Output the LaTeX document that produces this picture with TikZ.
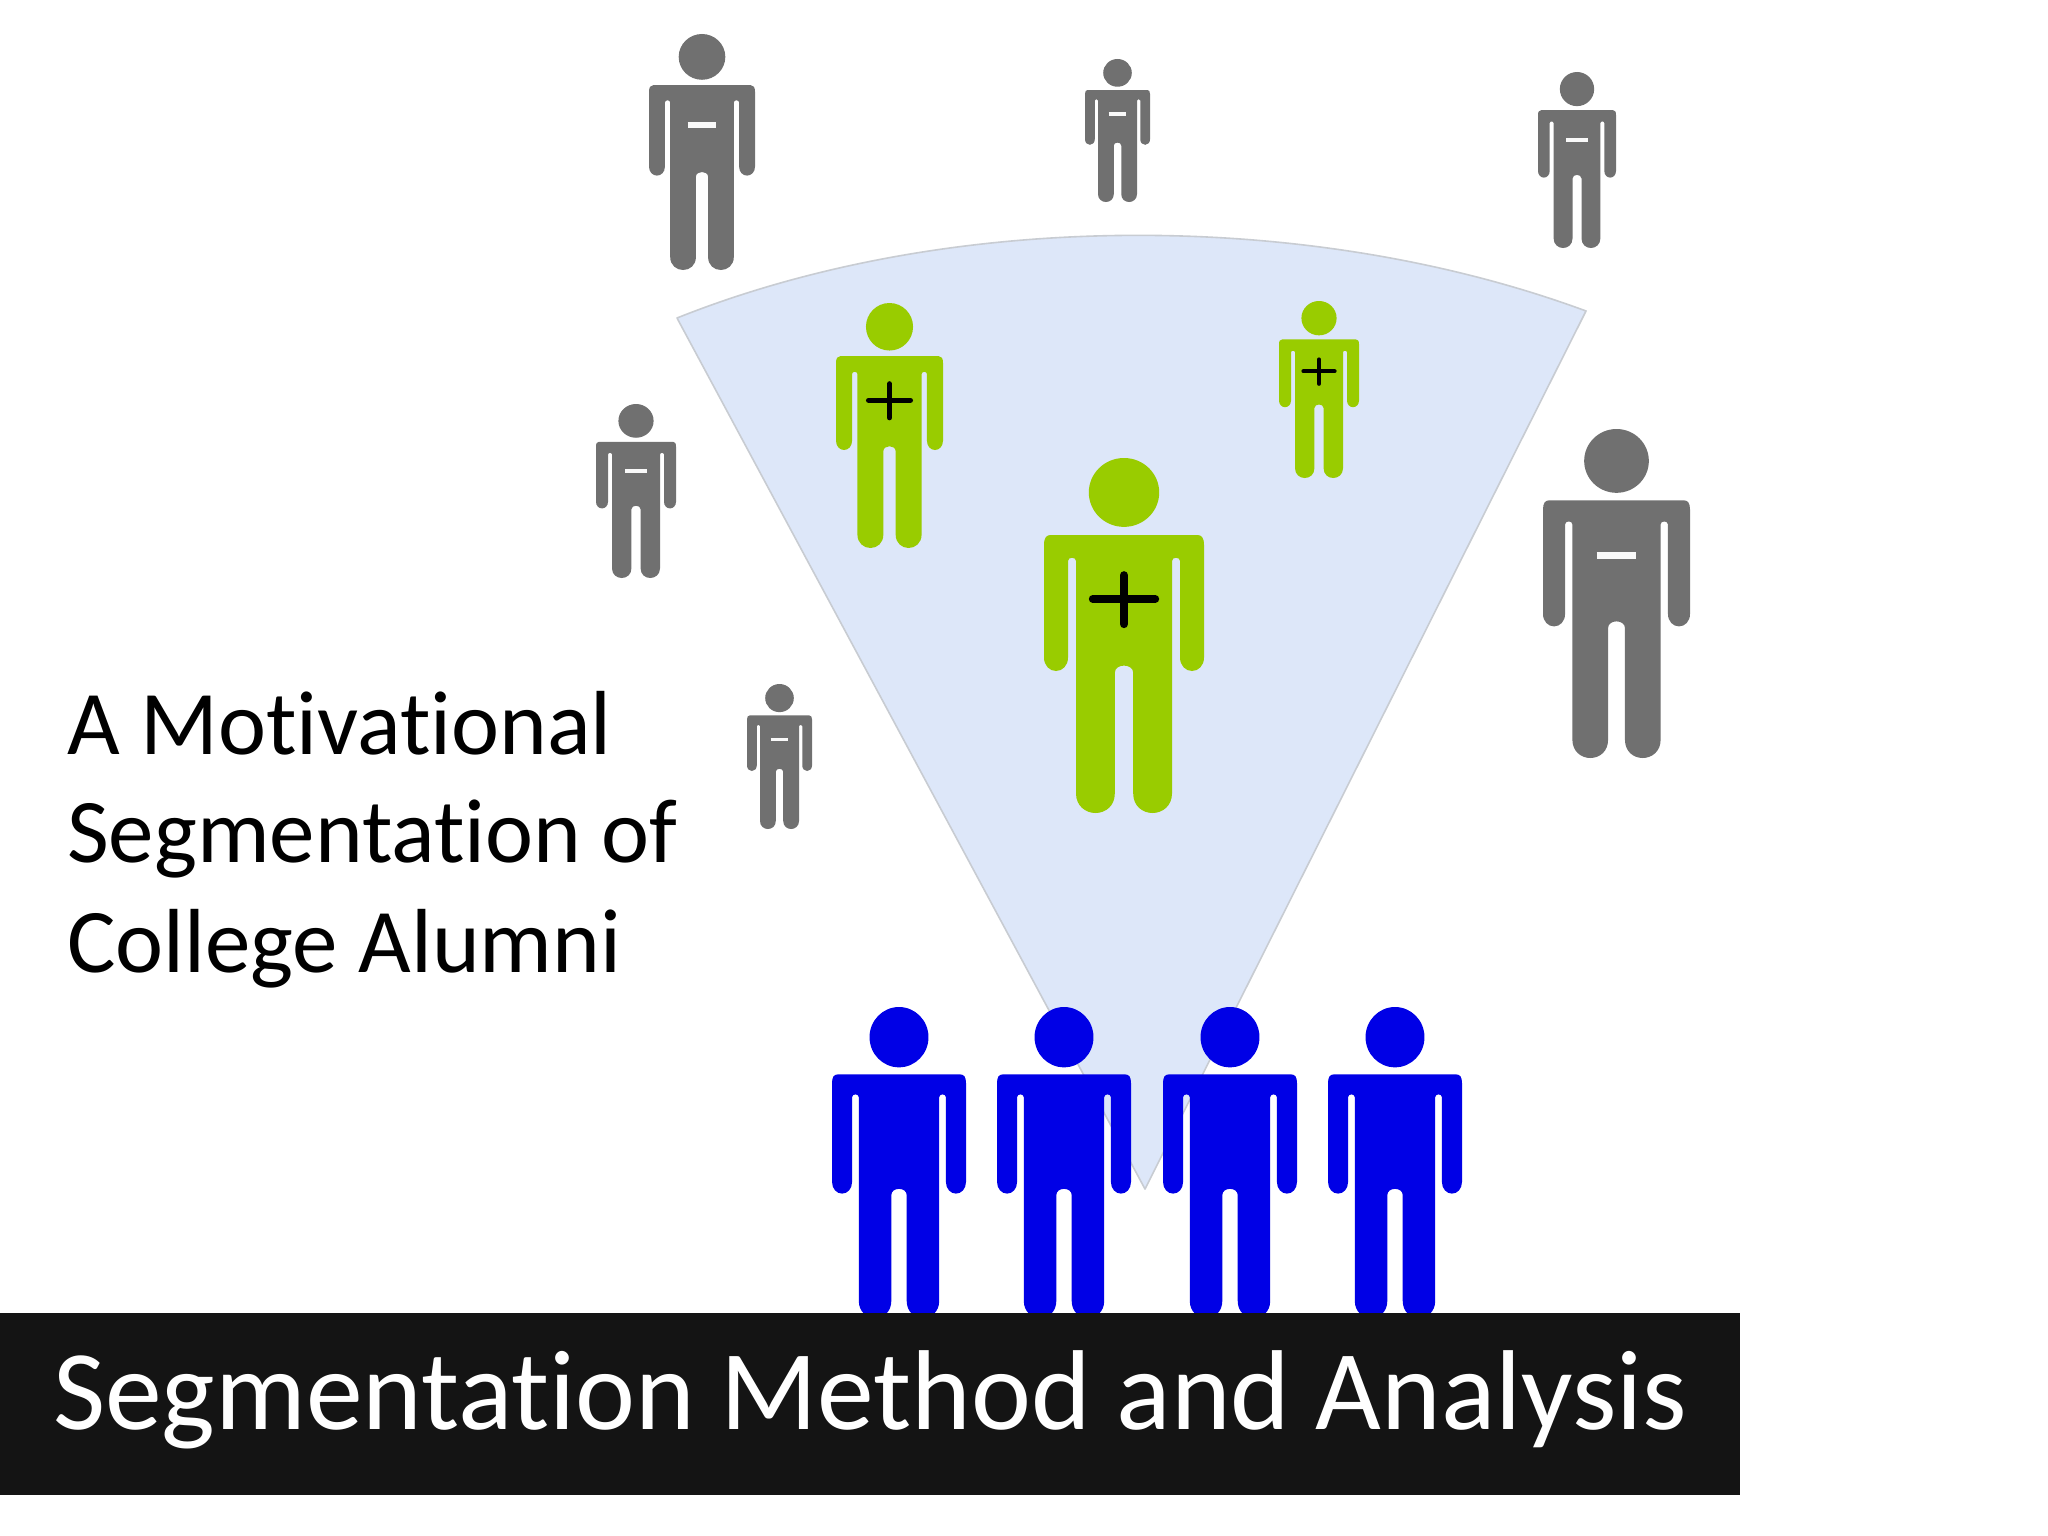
\documentclass[tikz,border=0pt]{standalone}
\usepackage{fontspec}
\setmainfont[Ligatures={NoCommon}]{Carlito}
\definecolor{figgray}{HTML}{707070}
\definecolor{figgreen}{HTML}{99CC00}
\definecolor{figblue}{HTML}{0000E6}
\definecolor{fanfill}{HTML}{DDE7F9}
\definecolor{fanedge}{HTML}{C8CCD2}
\definecolor{barfill}{HTML}{141414}
\newcommand{\person}[6]{% left, right, top, bottom, colour, sign (0 minus, 1 plus, 2 none)
  \pgfmathsetmacro{\cxv}{(#1+#2)/2}
  \pgfmathsetmacro{\hwv}{(#2-#1)/2}
  \pgfmathsetmacro{\htv}{#4-#3}
  \begin{scope}[shift={(\cxv pt,-#3 pt)},x=\hwv pt,y=-\htv pt]
    \fill[#5] (0,0.097) ellipse [x radius=0.44,y radius=0.097];
    \fill[#5] (-0.92,0.217) -- (0.92,0.217)
      .. controls (0.97,0.217) and (1,0.225) .. (1,0.245)
      -- (1,0.562) .. controls (1,0.585) and (0.93,0.600) .. (0.85,0.600)
      .. controls (0.77,0.600) and (0.70,0.585) .. (0.70,0.562)
      -- (0.70,0.290) .. controls (0.70,0.278) and (0.60,0.278) .. (0.60,0.290)
      -- (0.60,0.945) .. controls (0.60,0.980) and (0.48,1) .. (0.357,1)
      .. controls (0.23,1) and (0.115,0.980) .. (0.115,0.945)
      -- (0.115,0.605) .. controls (0.115,0.578) and (-0.115,0.578) .. (-0.115,0.605)
      -- (-0.115,0.945) .. controls (-0.115,0.980) and (-0.23,1) .. (-0.357,1)
      .. controls (-0.48,1) and (-0.60,0.980) .. (-0.60,0.945)
      -- (-0.60,0.290) .. controls (-0.60,0.278) and (-0.70,0.278) .. (-0.70,0.290)
      -- (-0.70,0.562) .. controls (-0.70,0.585) and (-0.77,0.600) .. (-0.85,0.600)
      .. controls (-0.93,0.600) and (-1,0.585) .. (-1,0.562)
      -- (-1,0.245) .. controls (-1,0.225) and (-0.97,0.217) .. (-0.92,0.217) -- cycle;
    \pgfmathsetmacro{\lwv}{0.05*(#2-#1)}
    \ifnum#6=0
      \draw[white!95!gray,line width=\lwv pt] (-0.27,0.385) -- (0.27,0.385);
    \fi
    \ifnum#6=1
      \draw[black,line width=\lwv pt,line cap=round] (-0.39,0.397) -- (0.39,0.397);
      \draw[black,line width=\lwv pt,line cap=round] (0,0.33) -- (0,0.468);
    \fi
  \end{scope}
}
\begin{document}
\begin{tikzpicture}[x=1pt,y=-1pt,
  bigtext/.style={font=\fontsize{113.6}{120}\selectfont,text=white,inner sep=0pt,anchor=base west},
  sidetext/.style={font=\fontsize{91}{100}\selectfont,text=black,inner sep=0pt,anchor=base west}]
  \useasboundingbox (0,0) rectangle (2048,1536);
  \fill[white] (0,0) rectangle (2048,1536);
  % fan
  \draw[fill=fanfill,draw=fanedge,line width=1.6pt,line join=round]
    (677,318) .. controls (950,209) and (1310,209) .. (1586,311) -- (1145,1189) -- cycle;
  % gray figures
  \person{649}{755}{34}{270}{figgray}{0}
  \person{1085}{1150}{59}{202}{figgray}{0}
  \person{1538}{1616}{72}{248}{figgray}{0}
  \person{596}{676}{404}{578}{figgray}{0}
  \person{747}{812}{684}{829}{figgray}{0}
  \person{1543}{1690}{429}{758}{figgray}{0}
  % green figures
  \person{1044}{1204}{458}{813}{figgreen}{1}
  \person{836}{943}{303}{548}{figgreen}{1}
  \person{1279}{1359}{301}{478}{figgreen}{1}
  % blue figures
  \person{832}{966}{1007}{1318}{figblue}{2}
  \person{997}{1131}{1007}{1318}{figblue}{2}
  \person{1163}{1297}{1007}{1318}{figblue}{2}
  \person{1328}{1462}{1007}{1318}{figblue}{2}
  % bar
  \fill[barfill] (0,1313) rectangle (1740,1495);
  \node[bigtext] (title) at (53,1429) {Segmentation Method and Analysis};
  \node[sidetext] (l1) at (67,754) {A Motivational};
  \node[sidetext] (l2) at (67,862) {Segmentation of};
  \node[sidetext] (l3) at (67,972) {College Alumni};
\end{tikzpicture}
\end{document}
